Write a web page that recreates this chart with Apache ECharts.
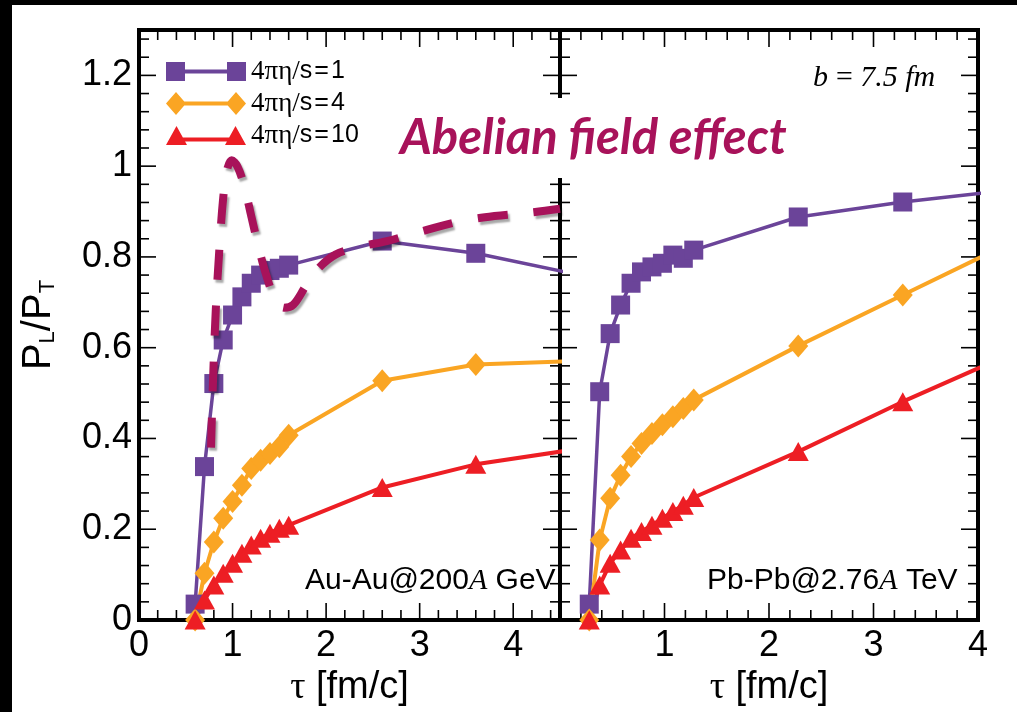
<!DOCTYPE html>
<html>
<head>
<meta charset="utf-8">
<script src="https://cdn.jsdelivr.net/npm/echarts@6/dist/echarts.min.js"></script>
<style>
html, body { margin: 0; padding: 0; background: #000; }
#chart { position: absolute; left: 12px; top: 5px; width: 1005px; height: 707px; background: #fff; }
</style>
</head>
<body>
<div id="chart"></div>
<script>
// Au-Au @ 200A GeV (left panel)
const tauAu = [0.6, 0.7, 0.8, 0.9, 1.0, 1.1, 1.2, 1.3, 1.4, 1.5, 1.6, 2.6, 3.6, 4.6]
const auEta1 = [0.035, 0.338, 0.521, 0.617, 0.672, 0.712, 0.742, 0.76, 0.77, 0.775, 0.782, 0.835, 0.808, 0.765]
const auEta4 = [0.0, 0.103, 0.172, 0.224, 0.261, 0.297, 0.334, 0.352, 0.367, 0.382, 0.407, 0.527, 0.563, 0.57]
const auEta10 = [0.0, 0.044, 0.077, 0.103, 0.125, 0.147, 0.165, 0.18, 0.191, 0.202, 0.209, 0.292, 0.343, 0.374]

// Pb-Pb @ 2.76A TeV (right panel)
const tauPb = [0.28, 0.38, 0.48, 0.58, 0.68, 0.78, 0.88, 0.98, 1.08, 1.18, 1.28, 2.28, 3.28, 4.28]
const pbEta1 = [0.035, 0.503, 0.631, 0.694, 0.742, 0.767, 0.778, 0.786, 0.804, 0.797, 0.815, 0.888, 0.921, 0.947]
const pbEta4 = [0.0, 0.176, 0.268, 0.319, 0.36, 0.389, 0.411, 0.43, 0.448, 0.466, 0.485, 0.604, 0.716, 0.828]
const pbEta10 = [0.0, 0.077, 0.125, 0.154, 0.18, 0.195, 0.209, 0.224, 0.239, 0.253, 0.27, 0.371, 0.481, 0.583]

// hand drawn "Abelian field effect" curve
const abelTau = [0.77, 0.79, 0.82, 0.86, 0.9, 0.94, 0.99, 1.05, 1.12, 1.2, 1.28, 1.36, 1.45, 1.55, 1.65, 1.78, 1.92, 2.1, 2.35, 2.65, 3.0, 3.4, 3.8, 4.2, 4.5]
const abelVal = [0.38, 0.52, 0.68, 0.82, 0.93, 0.99, 1.013, 1.0, 0.96, 0.89, 0.82, 0.76, 0.71, 0.688, 0.695, 0.735, 0.775, 0.805, 0.822, 0.835, 0.855, 0.877, 0.89, 0.898, 0.906]

const seriesNames = ['4πη/s=1', '4πη/s=4', '4πη/s=10']

// axis ranges and tick steps
const xMaxAu = 4.5
const xMaxPb = 4
const yMax = 1.3
const xMajorStep = 1, xMinorStep = 0.2
const yMajorStep = 0.2, yMinorStep = 0.04

const purple = '#6B4499'
const orange = '#FAA523'
const red = '#ED1E24'
const abelColor = '#A8125A'

function pairs(xs, ys) {
  return xs.map((x, i) => [x, ys[i]])
}

// tick list for one panel: [value, kind]; kind 0/1 = x major/minor, 2/3 = y major/minor
function tickList(xMax) {
  const out = []
  for (let i = 1; i * xMinorStep < xMax - 1e-6; i++) {
    const v = +(i * xMinorStep).toFixed(4)
    out.push([v, Math.abs(v / xMajorStep - Math.round(v / xMajorStep)) < 1e-6 ? 0 : 1])
  }
  for (let i = 1; i * yMinorStep < yMax - 1e-6; i++) {
    const v = +(i * yMinorStep).toFixed(4)
    out.push([v, Math.abs(v / yMajorStep - Math.round(v / yMajorStep)) < 1e-6 ? 2 : 3])
  }
  return out
}

// inward ticks on all four sides, drawn as thin filled bars
function tickSeries(grid, xMax) {
  return {
    type: 'custom',
    xAxisIndex: grid,
    yAxisIndex: grid,
    clip: false,
    silent: true,
    z: 3,
    data: tickList(xMax),
    renderItem: function(params, api) {
      const v = api.value(0)
      const kind = api.value(1)
      const len = kind === 0 || kind === 2 ? 17 : 10
      const w = 1.6
      if (kind < 2) {
        const b = api.coord([v, 0])
        const t = api.coord([v, yMax])
        return {
          type: 'group',
          children: [
            { type: 'rect', shape: { x: b[0] - w / 2, y: b[1] - len, width: w, height: len }, style: { fill: '#000' } },
            { type: 'rect', shape: { x: t[0] - w / 2, y: t[1], width: w, height: len }, style: { fill: '#000' } }
          ]
        }
      }
      const l = api.coord([0, v])
      const r = api.coord([xMax, v])
      return {
        type: 'group',
        children: [
          { type: 'rect', shape: { x: l[0], y: l[1] - w / 2, width: len, height: w }, style: { fill: '#000' } },
          { type: 'rect', shape: { x: r[0] - len, y: r[1] - w / 2, width: len, height: w }, style: { fill: '#000' } }
        ]
      }
    }
  }
}

function numLabel(v) {
  return String(+v.toFixed(2))
}

function xAxisFor(grid, max, hideZero) {
  return {
    type: 'value',
    gridIndex: grid,
    min: 0,
    max: max,
    interval: xMajorStep,
    axisLine: { show: false },
    axisTick: { show: false },
    axisLabel: {
      margin: 8,
      color: '#000',
      fontSize: 36,
      fontFamily: 'Liberation Sans',
      formatter: function(v) {
        if (v > 4.01 || (hideZero && v === 0)) return ''
        return numLabel(v)
      }
    },
    splitLine: { show: false },
    name: '{g|τ} [fm/c]',
    nameLocation: 'middle',
    nameGap: 46,
    nameTextStyle: {
      color: '#000',
      fontSize: 38,
      fontFamily: 'Liberation Sans',
      rich: { g: { fontSize: 38, fontFamily: 'Liberation Serif', color: '#000' } }
    }
  }
}

function yAxisFor(grid, withLabels) {
  return {
    type: 'value',
    gridIndex: grid,
    min: 0,
    max: yMax,
    interval: yMajorStep,
    axisLine: { show: false },
    axisTick: { show: false },
    axisLabel: {
      show: withLabels,
      margin: 7,
      color: '#000',
      fontSize: 36,
      fontFamily: 'Liberation Sans',
      formatter: function(v) {
        return v > 1.25 ? '' : numLabel(v)
      }
    },
    splitLine: { show: false },
    name: withLabels ? '{p|P}{s|L}{p|/P}{s|T}' : '',
    nameLocation: 'middle',
    nameRotate: 90,
    nameGap: 80,
    nameTextStyle: {
      color: '#000',
      rich: {
        p: { fontSize: 40, fontFamily: 'Liberation Sans', color: '#000', verticalAlign: 'bottom' },
        s: { fontSize: 22, fontFamily: 'Liberation Sans', color: '#000', verticalAlign: 'bottom' }
      }
    }
  }
}

function curve(name, data, gi, color, symbol, size, width) {
  return {
    name: name,
    type: 'line',
    xAxisIndex: gi,
    yAxisIndex: gi,
    data: data,
    symbol: symbol,
    symbolSize: size,
    showSymbol: true,
    lineStyle: { color: color, width: width },
    itemStyle: { color: color, borderWidth: 0 },
    clip: true
  }
}

const squareIcon = 'path://M0,0H19V19H0Z M61,0H80V19H61Z M19,7.5H61V11.5H19Z'
const diamondIcon = 'path://M0,11.5L10,0L20,11.5L10,23Z M60,11.5L70,0L80,11.5L70,23Z M18,9.5H62V13.5H18Z'
const triangleIcon = 'path://M0,19L10.5,0L21,19Z M59,19L69.5,0L80,19Z M15,11.5H65V15.5H15Z'

const plainText = { fontSize: 30, fontFamily: 'Liberation Sans', fontWeight: 'normal', color: '#000' }
const italicA = { fontSize: 30, fontFamily: 'Liberation Serif', fontStyle: 'italic', fontWeight: 'normal', color: '#000' }

let myChart = echarts.init(document.getElementById('chart'))

const option = {
  backgroundColor: '#fff',
  animation: false,
  title: [
    {
      text: 'Abelian field effect',
      left: 380,
      top: 93,
      padding: [14, 10, 14, 8],
      backgroundColor: '#fff',
      textStyle: {
        color: abelColor,
        fontFamily: 'Lato',
        fontStyle: 'italic',
        fontWeight: 'bold',
        fontSize: 49,
        lineHeight: 52
      }
    },
    {
      text: 'b\u2009=\u20097.5 fm',
      left: 801,
      top: 58,
      padding: 0,
      textStyle: { color: '#000', fontFamily: 'Liberation Serif', fontStyle: 'italic', fontWeight: 'normal', fontSize: 30 }
    },
    {
      text: '{t|Au-Au@200}{i|A}{t| GeV}',
      left: 293,
      top: 561,
      padding: 0,
      textStyle: { fontWeight: 'normal', rich: { t: plainText, i: italicA } }
    },
    {
      text: '{t|Pb-Pb@2.76}{i|A}{t| TeV}',
      left: 695,
      top: 561,
      padding: 0,
      textStyle: { fontWeight: 'normal', rich: { t: plainText, i: italicA } }
    }
  ],
  legend: {
    orient: 'vertical',
    left: 154,
    top: 53,
    itemWidth: 80,
    itemHeight: 23,
    itemGap: 5,
    symbolKeepAspect: true,
    selectedMode: false,
    padding: 0,
    itemStyle: { borderWidth: 0 },
    data: [
      { name: seriesNames[0], icon: squareIcon },
      { name: seriesNames[1], icon: diamondIcon },
      { name: seriesNames[2], icon: triangleIcon }
    ],
    formatter: function(name) {
      const parts = name.split('/')
      return '{g|' + parts[0] + '/}{s|' + parts[1].replace('=', '\u200a=\u200a') + '}'
    },
    textStyle: {
      color: '#000',
      rich: {
        g: { fontSize: 27, fontFamily: 'Liberation Serif', color: '#000', lineHeight: 23 },
        s: { fontSize: 25, fontFamily: 'Liberation Sans', color: '#000', lineHeight: 23 }
      }
    }
  },
  grid: [
    { show: true, left: 127, top: 25, width: 421, height: 590, borderColor: '#000', borderWidth: 4, backgroundColor: 'transparent' },
    { show: true, left: 548, top: 25, width: 418, height: 590, borderColor: '#000', borderWidth: 4, backgroundColor: 'transparent' }
  ],
  xAxis: [xAxisFor(0, xMaxAu, false), xAxisFor(1, xMaxPb, true)],
  yAxis: [yAxisFor(0, true), yAxisFor(1, false)],
  series: [
    tickSeries(0, xMaxAu),
    tickSeries(1, xMaxPb),
    curve(seriesNames[0], pairs(tauAu, auEta1), 0, purple, 'rect', 19, 3.5),
    curve(seriesNames[1], pairs(tauAu, auEta4), 0, orange, 'diamond', [20, 23], 4),
    curve(seriesNames[2], pairs(tauAu, auEta10), 0, red, 'triangle', [21, 19], 4),
    curve(seriesNames[0], pairs(tauPb, pbEta1), 1, purple, 'rect', 19, 3.5),
    curve(seriesNames[1], pairs(tauPb, pbEta4), 1, orange, 'diamond', [20, 23], 4),
    curve(seriesNames[2], pairs(tauPb, pbEta10), 1, red, 'triangle', [21, 19], 4),
    {
      name: 'Abelian',
      type: 'line',
      xAxisIndex: 0,
      yAxisIndex: 0,
      data: pairs(abelTau, abelVal),
      symbol: 'none',
      smooth: 0.35,
      z: 5,
      lineStyle: {
        color: abelColor,
        width: 8,
        type: [30, 26],
        cap: 'butt',
        shadowColor: 'rgba(0,0,0,0.35)',
        shadowBlur: 2,
        shadowOffsetX: 2,
        shadowOffsetY: 3
      }
    }
  ]
}

myChart.setOption(option)
</script>
</body>
</html>
